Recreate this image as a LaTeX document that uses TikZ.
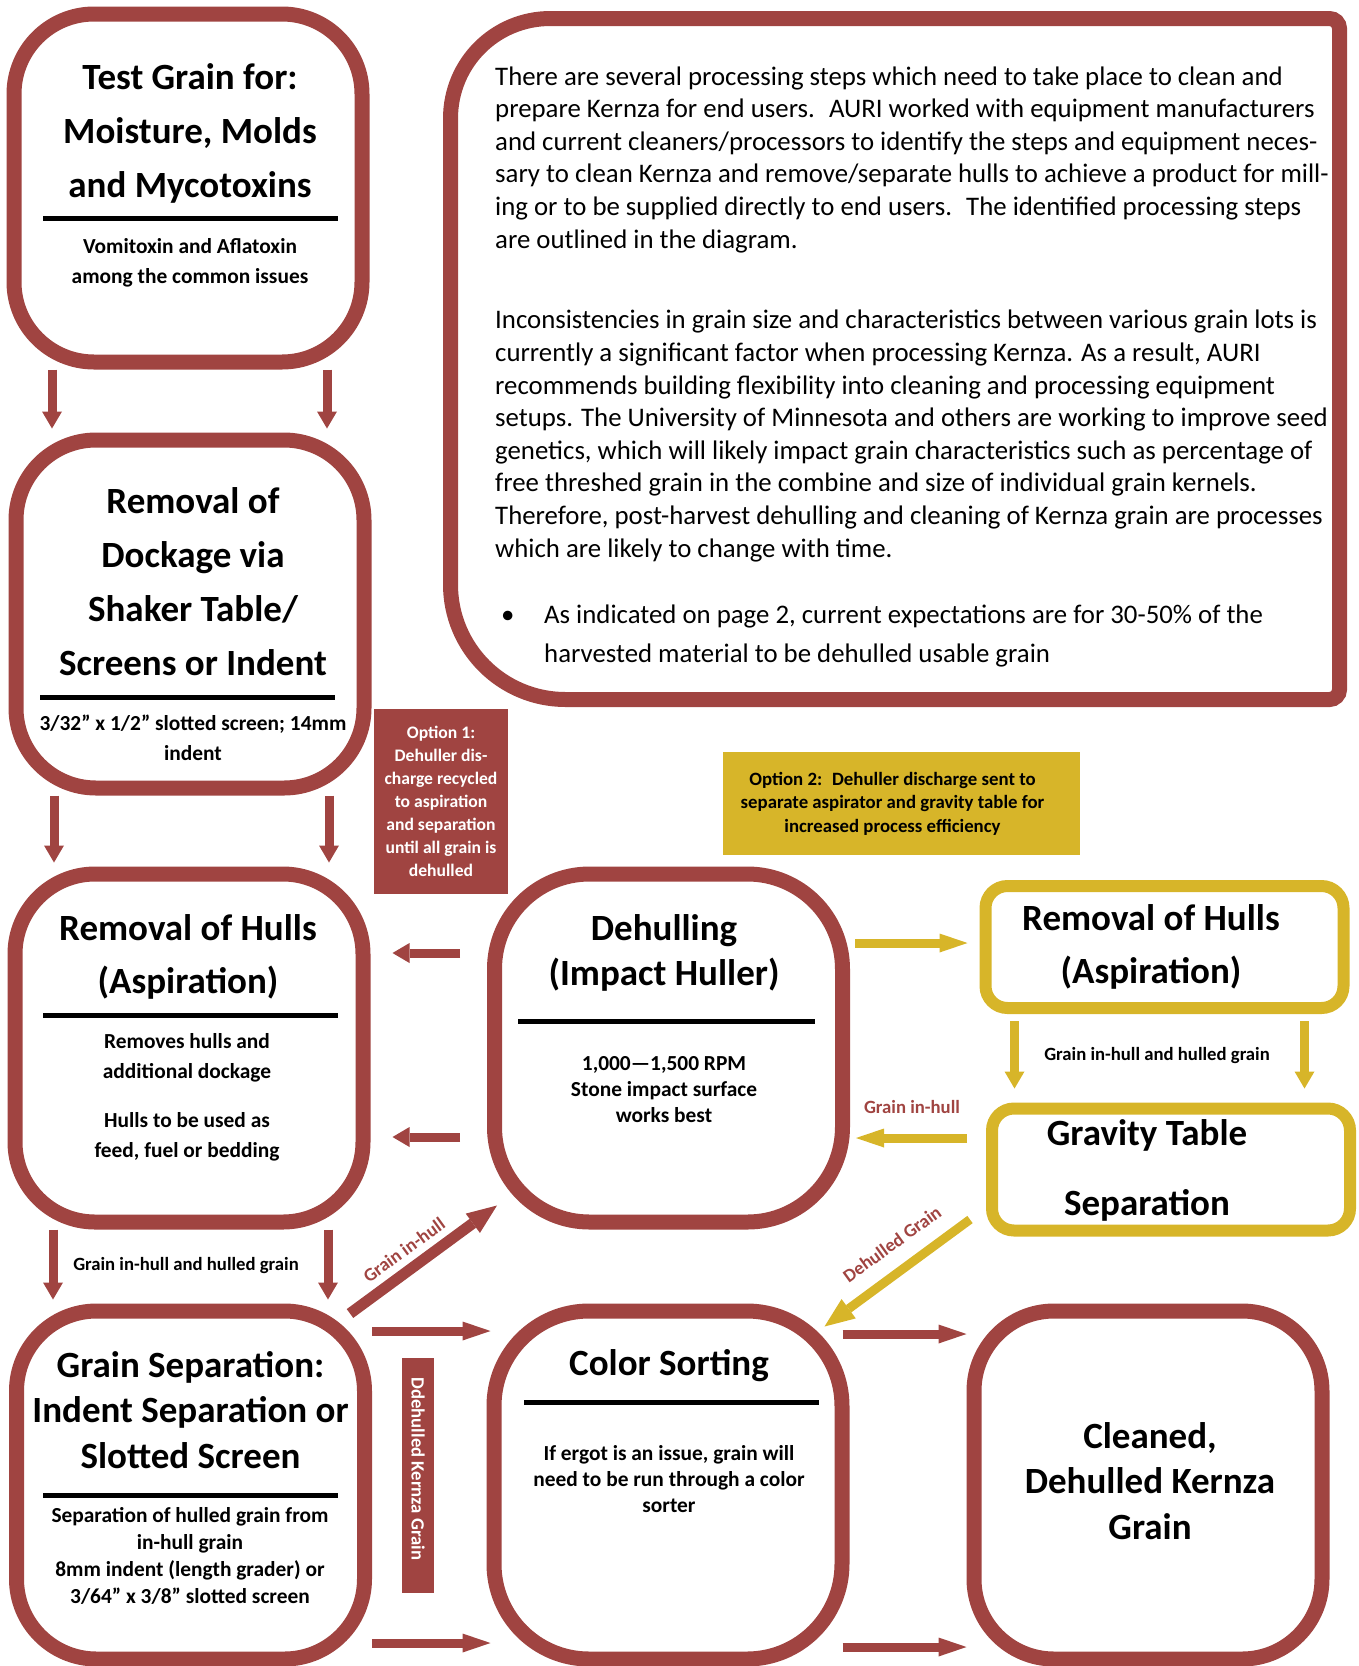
\documentclass[tikz,border=0pt]{standalone}
\usepackage{fontspec}
\setmainfont{Carlito}
\usetikzlibrary{
    positioning,
    arrows.meta,
    calc
}
\definecolor{rust}{RGB}{160,68,65}
\definecolor{gold}{RGB}{215,181,41}

\begin{document}
\begin{tikzpicture}[
        x=1pt, y=-1pt,
        stage/.style={
            rectangle,
            rounded corners=80pt,
            draw=rust,
            line width=15pt,
            minimum width=348pt,
            minimum height=348pt,
            inner sep=0pt
        },
        panel/.style={
            rectangle,
            rounded corners=22pt,
            draw=gold,
            line width=12pt,
            minimum width=358pt,
            minimum height=122pt,
            inner sep=0pt
        },
        tab/.style={
            rectangle,
            fill=#1,
            inner sep=0pt,
            align=center
        },
        tab/.default=rust,
        % base = baseline of the last line
        head/.style={font=\bfseries\fontsize{37}{#1}\selectfont, align=center, inner sep=0pt, anchor=base},
        head/.default=54,
        note/.style={font=\bfseries\fontsize{21.4}{#1}\selectfont, align=center, inner sep=0pt, anchor=base},
        note/.default=30,
        tag/.style={font=\bfseries\fontsize{18.7}{22}\selectfont, inner sep=0pt},
        prose/.style={font=\fontsize{26.8}{32.6}\selectfont, align=left, inner sep=0pt, anchor=base west},
        rule/.style={line width=5pt},
        arrow/.style={
            draw=#1,
            line width=9pt,
            -{Triangle[width=20pt, length=17pt, line width=0pt]}
        },
        arrow/.default=rust,
        longarrow/.style={
            draw=#1,
            line width=9pt,
            -{Triangle[width=19pt, length=28pt, line width=0pt]}
        },
        longarrow/.default=rust
    ]
    \useasboundingbox (0,0) rectangle (1359,1666);

    % left column
    \node[stage] (test) at (188,188) {};
    \node[stage] (dock) at (190,614) {};
    \node[stage] (hulls) at (189,1048) {};
    \node[stage] (sep) at (190.5,1485) {};

    % middle and right
    \node[stage, rounded corners=95pt] (dehull) at (668.5,1048) {};
    \node[stage, rounded corners=95pt] (sort) at (668,1485) {};
    \node[stage] (clean) at (1148,1485) {};
    \node[panel] (yrem) at (1164.5,947) {};
    \node[panel] (grav) at (1171,1169.5) {};

    % text panel
    \draw[rust, line width=15pt]
        (450.5,118.5) .. controls (450.5,63) and (495,18.5) .. (550.5,18.5)
        -- (1329.5,18.5) .. controls (1335,18.5) and (1339.5,23) .. (1339.5,28.5)
        -- (1339.5,689.5) .. controls (1339.5,695) and (1335,699.5) .. (1329.5,699.5)
        -- (565.5,699.5) .. controls (502,699.5) and (450.5,648) .. (450.5,584.5)
        -- cycle;
    \node[prose] (intro) at (495,248) {There are several processing steps which need to take place to clean and\\
        prepare Kernza for end users.~ AURI worked with equipment manufacturers\\
        and current cleaners/processors to identify the steps and equipment neces-\\
        sary to clean Kernza and remove/separate hulls to achieve a product for mill-\\
        ing or to be supplied directly to end users.~ The identified processing steps\\
        are outlined in the diagram.};
    \node[prose] (issues) at (495,557) {Inconsistencies in grain size and characteristics between various grain lots is\\
        currently a significant factor when processing Kernza. As a result, AURI\\
        recommends building flexibility into cleaning and processing equipment\\
        setups. The University of Minnesota and others are working to improve seed\\
        genetics, which will likely impact grain characteristics such as percentage of\\
        free threshed grain in the combine and size of individual grain kernels.\\
        Therefore, post-harvest dehulling and cleaning of Kernza grain are processes\\
        which are likely to change with time.};
    \node[prose, font=\fontsize{26.8}{39}\selectfont] (outlook) at (501,662) {\makebox[43pt][l]{•}As indicated on page 2, current expectations are for 30-50\% of the\\
        \hspace*{43pt}harvested material to be dehulled usable grain};

    % option tabs
    \node[tab, minimum width=134pt, minimum height=185pt, text=white, font=\bfseries\fontsize{17.6}{23}\selectfont] (opt1) at (441,801.5) {Option 1:\\Dehuller dis-\\charge recycled\\to aspiration\\and separation\\until all grain is\\dehulled};
    \node[tab=gold, minimum width=357pt, minimum height=103pt] (opt2) at (901.5,803.5) {};
    \node[align=center, inner sep=0pt, font=\bfseries\fontsize{18.8}{23.5}\selectfont] (opt2T) at ($(opt2)+(-9,0)$) {Option 2:~ Dehuller discharge sent to\\separate aspirator and gravity table for\\increased process efficiency};
    \node[tab, rotate=-90, minimum width=235pt, minimum height=32pt, text=white, tag] (dkg) at (418,1475.5) {Ddehulled Kernza Grain\hspace*{13pt}};

    % box texts
    \node[head] (testT) at (190,197) {Test Grain for:\\Moisture, Molds\\and Mycotoxins};
    \draw[rule] (43,218) -- (338,218);
    \node[note] (testN) at (190,283) {Vomitoxin and Aflatoxin\\among the common issues};

    \node[head] (dockT) at (193,675) {Removal of\\Dockage via\\Shaker Table/\\Screens or Indent};
    \draw[rule] (40,697) -- (335,697);
    \node[note] (dockN) at (193,760) {3/32” x 1/2” slotted screen; 14mm\\indent};

    \node[head=53] (hullsT) at (188,993) {Removal of Hulls\\(Aspiration)};
    \draw[rule] (43,1015) -- (338,1015);
    \node[note] (hullsN) at (187,1157) {Removes hulls and\\additional dockage\\[19pt]Hulls to be used as\\feed, fuel or bedding};

    \node[head=45.5] (sepT) at (190.5,1468) {Grain Separation:\\Indent Separation or\\Slotted Screen};
    \draw[rule] (43,1495) -- (338,1495);
    \node[note=26.7] (sepN) at (190,1603) {Separation of hulled grain from\\in-hull grain\\8mm indent (length grader) or\\3/64” x 3/8” slotted screen};

    \node[head=45] (dehullT) at (664,985) {Dehulling\\(Impact Huller)};
    \draw[rule] (518,1021) -- (815,1021);
    \node[note=26] (dehullN) at (664,1122) {1,000—1,500 RPM\\Stone impact surface\\works best};

    \node[head] (sortT) at (669,1375) {Color Sorting};
    \draw[rule] (524,1402) -- (819,1402);
    \node[note=26] (sortN) at (669,1512) {If ergot is an issue, grain will\\need to be run through a color\\sorter};

    \node[head=45.5] (cleanT) at (1150,1539) {Cleaned,\\Dehulled Kernza\\Grain};

    \node[head=53] (yremT) at (1151,983) {Removal of Hulls\\(Aspiration)};
    \node[head=70] (gravT) at (1147,1215) {Gravity Table\\Separation};

    % connectors
    \foreach \a/\b in {test/dock, dock/hulls, hulls/sep} {
        \foreach \dx in {-136,139} {
            \draw[arrow, shorten >=4pt] ($(\a.south)+(\dx,0)$) -- ($(\a.south |- \b.north)+(\dx,0)$);
        }
    }
    \foreach \dy in {-95,89} {
        \draw[arrow, shorten <=27pt, shorten >=22pt] ($(dehull.west)+(0,\dy)$) -- ($(dehull.west -| hulls.east)+(0,\dy)$);
    }
    \foreach \dy in {-154,158} {
        \draw[longarrow, shorten >=-4pt] ($(sep.east)+(0,\dy)$) -- ($(sep.east -| sort.west)+(0,\dy)$);
    }
    \foreach \dy in {-151,162} {
        \draw[longarrow, shorten <=-7pt] ($(sort.east)+(0,\dy)$) -- ($(sort.east -| clean.west)+(0,\dy)$);
    }
    \draw[longarrow, line width=11pt, -{Triangle[width=24pt, length=30pt, line width=0pt]}] ($(sep.north east)+(-22,10)$) -- ($(dehull.south west)+(10,-24)$);
    \draw[longarrow=gold, shorten <=5pt, shorten >=12pt] ($(dehull.east)+(0,-105)$) -- ($(dehull.east -| yrem.west)+(0,-105)$);
    \foreach \dx in {-150,140} {
        \draw[arrow=gold, shorten <=7pt, shorten >=14pt] ($(yrem.south)+(\dx,0)$) -- ($(yrem.south |- grav.north)+(\dx,0)$);
    }
    \draw[longarrow=gold, shorten <=19pt, shorten >=6pt] ($(grav.west)+(0,-31.5)$) -- ($(grav.west -| dehull.east)+(0,-31.5)$);
    \draw[longarrow=gold, -{Triangle[width=24pt, length=30pt, line width=0pt]}] ($(grav.south west)+(-16,-17)$) -- ($(sort.north east)+(-25,23)$);

    % connector labels
    \node[tag, anchor=base] (lblsep) at (186,1270) {Grain in-hull and hulled grain};
    \node[tag, anchor=base] (lblgrav) at (1157,1060) {Grain in-hull and hulled grain};
    \node[tag, anchor=base, text=rust] (lblback) at (912,1113) {Grain in-hull};
    \node[tag, text=rust, rotate=36] (lblup) at (404,1250) {Grain in-hull};
    \node[tag, text=rust, rotate=36] (lbldown) at (892,1244) {Dehulled Grain};
\end{tikzpicture}
\end{document}
